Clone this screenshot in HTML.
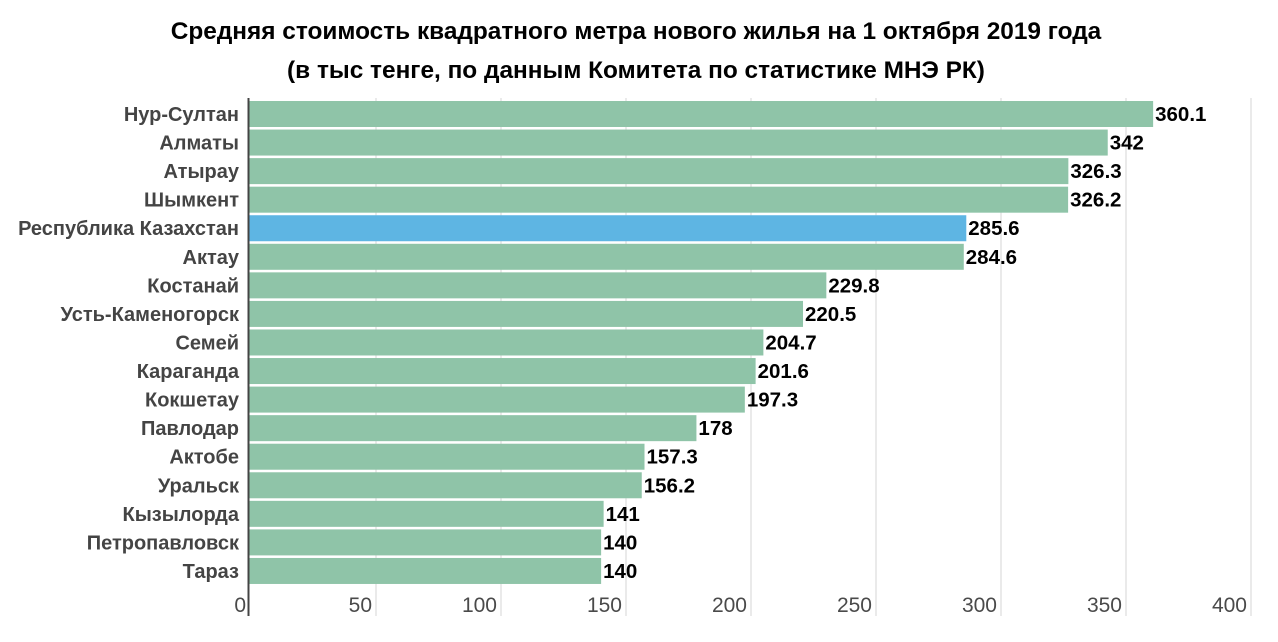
<!DOCTYPE html>
<html><head><meta charset="utf-8"><style>
body{margin:0;background:#fff;width:1278px;height:637px;overflow:hidden;font-family:"Liberation Sans","Noto Sans CJK SC",sans-serif;}
</style></head><body>
<svg width="1278" height="637" xmlns="http://www.w3.org/2000/svg" font-family="Liberation Sans, sans-serif">
<text x="636" y="39" text-anchor="middle" font-size="24.4" font-weight="bold" fill="#000">Средняя стоимость квадратного метра нового жилья на 1 октября 2019 года</text>
<text x="636" y="78" text-anchor="middle" font-size="24.4" font-weight="bold" fill="#000">(в тыс тенге, по данным Комитета по статистике МНЭ РК)</text>
<g stroke="#e4e4e4" stroke-width="1.5">
<line x1="376" y1="98" x2="376" y2="616"/><line x1="501" y1="98" x2="501" y2="616"/><line x1="626" y1="98" x2="626" y2="616"/><line x1="751" y1="98" x2="751" y2="616"/><line x1="876" y1="98" x2="876" y2="616"/><line x1="1001" y1="98" x2="1001" y2="616"/><line x1="1126" y1="98" x2="1126" y2="616"/><line x1="1251" y1="98" x2="1251" y2="616"/>
</g>
<g font-size="21" fill="#4a4a4a" text-anchor="end">
<text x="246" y="612">0</text><text x="372" y="612">50</text><text x="497" y="612">100</text><text x="622" y="612">150</text><text x="747" y="612">200</text><text x="872" y="612">250</text><text x="997" y="612">300</text><text x="1122" y="612">350</text><text x="1247" y="612">400</text>
</g>
<g id="bars"></g>
<line x1="248.5" y1="98" x2="248.5" y2="616" stroke="#444" stroke-width="2"/>
</svg>
<script>
var d=[["Нур-Султан",360.1],["Алматы",342],["Атырау",326.3],["Шымкент",326.2],["Республика Казахстан",285.6],["Актау",284.6],["Костанай",229.8],["Усть-Каменогорск",220.5],["Семей",204.7],["Караганда",201.6],["Кокшетау",197.3],["Павлодар",178],["Актобе",157.3],["Уральск",156.2],["Кызылорда",141],["Петропавловск",140],["Тараз",140]];
var g=document.getElementById("bars"),s="";
d.forEach(function(r,i){var y=101+i*28.56,w=r[1]*2.508;var c=i==4?"#5eb5e3":"#8fc4a8";
s+='<rect x="249" y="'+y+'" width="'+(w+1)+'" height="26" fill="'+c+'"/>';
s+='<text x="239" y="'+(y+20)+'" text-anchor="end" font-size="20" font-weight="bold" fill="#444">'+r[0]+'</text>';
s+='<text x="'+(252+w)+'" y="'+(y+20)+'" font-size="20.5" font-weight="bold" fill="#000">'+r[1]+'</text>';});
g.innerHTML=s;
</script>
</body></html>
